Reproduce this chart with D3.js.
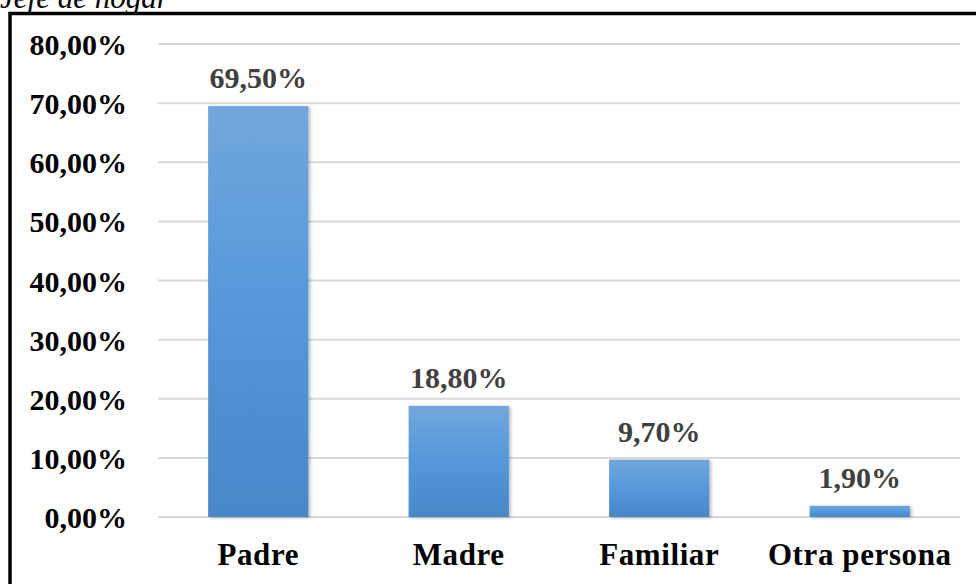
<!DOCTYPE html>
<html>
<head>
<meta charset="utf-8">
<title>Jefe de hogar</title>
<script src="https://cdn.jsdelivr.net/npm/d3@7"></script>
<style>
  body { margin: 0; background: #fff; }
  svg { display: block; }
  text { font-family: "Liberation Serif", "Times New Roman", serif; }
  .tick text { font-size: 30px; font-weight: bold; fill: #000; }
  .cat .tick text { font-size: 31px; letter-spacing: 0.6px; }
  .val { font-size: 30px; font-weight: bold; fill: #404040; }
</style>
</head>
<body>
<script>
var categories = ["Padre", "Madre", "Familiar", "Otra persona"];
var values = [69.5, 18.8, 9.7, 1.9];
var tickValues = [0, 10, 20, 30, 40, 50, 60, 70, 80];

var width = 976, height = 584;

var svg = d3.select("body").append("svg")
    .attr("width", width)
    .attr("height", height);

var defs = svg.append("defs");
var grad = defs.append("linearGradient")
    .attr("id", "barGrad")
    .attr("x1", 0).attr("y1", 0).attr("x2", 0).attr("y2", 1);
grad.append("stop").attr("offset", "0%").attr("stop-color", "#72a7dc");
grad.append("stop").attr("offset", "50%").attr("stop-color", "#5498db");
grad.append("stop").attr("offset", "100%").attr("stop-color", "#4788c9");

var shadow = defs.append("filter").attr("id", "shadow")
    .attr("x", "-10%").attr("y", "-10%").attr("width", "130%").attr("height", "130%");
shadow.append("feDropShadow")
    .attr("dx", 2).attr("dy", 1).attr("stdDeviation", 1.5)
    .attr("flood-color", "#000").attr("flood-opacity", 0.25);

// title, partly cut off at the top (as in the source picture)
svg.append("text")
    .attr("x", 0)
    .attr("y", 8)
    .style("font-size", "31px")
    .style("font-style", "italic")
    .text("Jefe de hogar");

// frame
svg.append("rect")
    .attr("x", 10).attr("y", 13.5)
    .attr("width", 980).attr("height", 600)
    .attr("fill", "none")
    .attr("stroke", "#000")
    .attr("stroke-width", 3.5);

var x = d3.scaleBand()
    .domain(categories)
    .range([158, 960])
    .paddingInner(0.5)
    .paddingOuter(0.25);

var y = d3.scaleLinear()
    .domain([0, 80])
    .range([517, 44]);

var fmt = function (d) { return d.toFixed(2).replace(".", ",") + "%"; };

// gridlines
svg.append("g")
    .selectAll("line")
    .data(tickValues)
    .join("line")
    .attr("x1", 158).attr("x2", 960)
    .attr("y1", function (d) { return y(d); })
    .attr("y2", function (d) { return y(d); })
    .attr("stroke", "#d9d9d9")
    .attr("stroke-width", 2);

// y axis labels
var yAxis = svg.append("g")
    .attr("transform", "translate(158,0)")
    .call(d3.axisLeft(y).tickValues(tickValues).tickFormat(fmt).tickSize(0).tickPadding(31));
yAxis.select(".domain").remove();
yAxis.selectAll(".tick text").attr("dy", "0.35em");

// x axis labels
var xAxis = svg.append("g")
    .attr("class", "cat")
    .attr("transform", "translate(0,517)")
    .call(d3.axisBottom(x).tickSize(0));
xAxis.select(".domain").remove();
xAxis.selectAll(".tick text").attr("dy", 0).attr("y", 48);

// bars
svg.append("g")
    .selectAll("rect")
    .data(values)
    .join("rect")
    .attr("x", function (d, i) { return x(categories[i]); })
    .attr("y", function (d) { return y(d); })
    .attr("width", x.bandwidth())
    .attr("height", function (d) { return y(0) - y(d); })
    .attr("fill", "url(#barGrad)")
    .attr("filter", "url(#shadow)");

// value labels
svg.append("g")
    .selectAll("text")
    .data(values)
    .join("text")
    .attr("class", "val")
    .attr("text-anchor", "middle")
    .attr("x", function (d, i) { return x(categories[i]) + x.bandwidth() / 2; })
    .attr("y", function (d) { return y(d) - 18; })
    .text(fmt);
</script>
</body>
</html>
